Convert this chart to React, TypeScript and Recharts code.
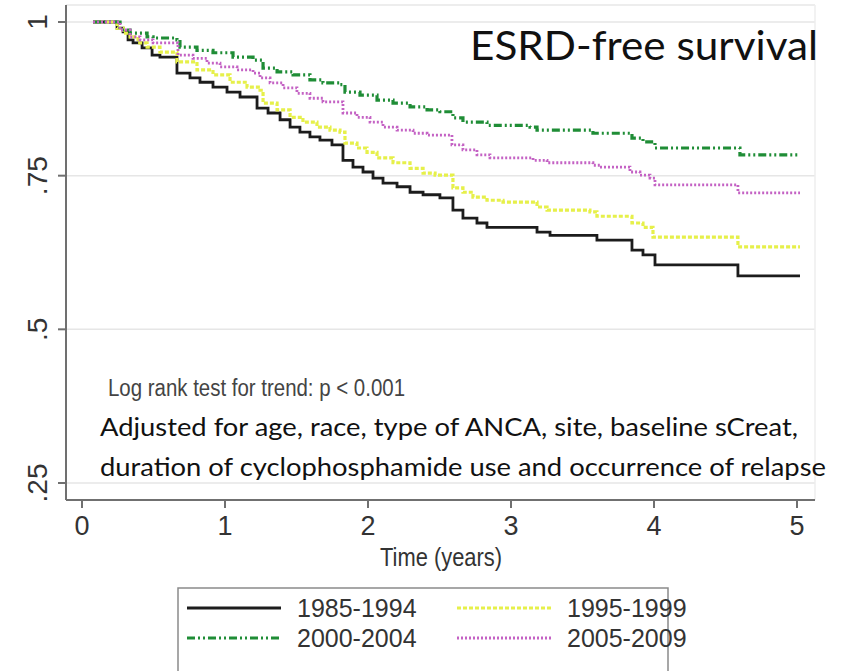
import React from "react";
import {
  CartesianGrid,
  Line,
  LineChart,
  ReferenceLine,
  XAxis,
  YAxis,
} from "recharts";

// Adjusted ESRD-free survival by era of diagnosis: [years, survival]
const era1985: [number, number][] = [
  [0.077, 1.0], [0.245, 0.99], [0.287, 0.984], [0.322, 0.971], [0.357, 0.966],
  [0.42, 0.958], [0.49, 0.946], [0.545, 0.943], [0.664, 0.917], [0.755, 0.909],
  [0.825, 0.902], [0.916, 0.894], [1.014, 0.886], [1.105, 0.878], [1.224, 0.86],
  [1.301, 0.852], [1.385, 0.841], [1.455, 0.829], [1.524, 0.821], [1.594, 0.813],
  [1.664, 0.808], [1.748, 0.8], [1.825, 0.775], [1.895, 0.764], [1.965, 0.756],
  [2.035, 0.746], [2.105, 0.738], [2.203, 0.732], [2.294, 0.723], [2.385, 0.719],
  [2.503, 0.714], [2.594, 0.694], [2.664, 0.681], [2.762, 0.673], [2.832, 0.666],
  [3.182, 0.658], [3.273, 0.653], [3.601, 0.645], [3.846, 0.629], [3.923, 0.621],
  [4.007, 0.605], [4.587, 0.587], [5.021, 0.587],
];

const era1995: [number, number][] = [
  [0.077, 1.0], [0.245, 0.99], [0.287, 0.982], [0.336, 0.976], [0.392, 0.966],
  [0.455, 0.959], [0.545, 0.951], [0.664, 0.935], [0.804, 0.922], [0.916, 0.914],
  [1.035, 0.902], [1.154, 0.894], [1.245, 0.889], [1.266, 0.868], [1.364, 0.857],
  [1.455, 0.845], [1.545, 0.837], [1.643, 0.829], [1.734, 0.824], [1.804, 0.821],
  [1.839, 0.803], [1.923, 0.795], [1.993, 0.788], [2.063, 0.779], [2.175, 0.771],
  [2.294, 0.762], [2.385, 0.754], [2.469, 0.751], [2.594, 0.73], [2.664, 0.723],
  [2.734, 0.715], [2.832, 0.71], [2.944, 0.707], [3.182, 0.699], [3.252, 0.694],
  [3.552, 0.691], [3.601, 0.684], [3.846, 0.673], [3.923, 0.666], [3.993, 0.65],
  [4.587, 0.634], [5.021, 0.634],
];

const era2000: [number, number][] = [
  [0.077, 1.0], [0.266, 0.987], [0.336, 0.982], [0.455, 0.976], [0.497, 0.974],
  [0.664, 0.971], [0.685, 0.959], [0.804, 0.954], [0.916, 0.95], [1.056, 0.943],
  [1.196, 0.938], [1.266, 0.925], [1.364, 0.919], [1.476, 0.914], [1.594, 0.906],
  [1.685, 0.901], [1.804, 0.898], [1.839, 0.886], [1.944, 0.881], [2.063, 0.873],
  [2.175, 0.868], [2.294, 0.862], [2.413, 0.857], [2.503, 0.854], [2.594, 0.844],
  [2.664, 0.837], [2.832, 0.832], [3.133, 0.829], [3.182, 0.824], [3.573, 0.819],
  [3.846, 0.811], [3.923, 0.805], [4.007, 0.795], [4.601, 0.784], [5.021, 0.784],
];

const era2005: [number, number][] = [
  [0.077, 1.0], [0.266, 0.987], [0.336, 0.976], [0.406, 0.971], [0.497, 0.966],
  [0.671, 0.946], [0.776, 0.941], [0.874, 0.933], [0.965, 0.927], [1.084, 0.922],
  [1.196, 0.917], [1.245, 0.909], [1.315, 0.901], [1.406, 0.893], [1.503, 0.884],
  [1.594, 0.876], [1.685, 0.87], [1.825, 0.852], [1.923, 0.845], [2.014, 0.837],
  [2.105, 0.829], [2.203, 0.824], [2.315, 0.819], [2.413, 0.816], [2.587, 0.8],
  [2.664, 0.792], [2.762, 0.784], [2.853, 0.779], [3.154, 0.775], [3.252, 0.771],
  [3.573, 0.767], [3.622, 0.764], [3.832, 0.756], [3.902, 0.751], [3.972, 0.746],
  [4.007, 0.735], [4.587, 0.722], [5.021, 0.722],
];

const xTicks = [0, 1, 2, 3, 4, 5];
const yTicks = [0.25, 0.5, 0.75, 1];

const series = [
  { name: "1985-1994", points: era1985, color: "#1c1c1c", dash: undefined, width: 2.8 },
  { name: "1995-1999", points: era1995, color: "#e6f04a", dash: "4 2", width: 3.2 },
  { name: "2000-2004", points: era2000, color: "#1f8d36", dash: "8 3 2 3 2 3", width: 3.2 },
  { name: "2005-2009", points: era2005, color: "#c462c4", dash: "2 2", width: 2.8 },
];

const W = 843;
const H = 671;
const X_DOMAIN: [number, number] = [-0.112, 5.126];
const Y_DOMAIN: [number, number] = [0.2223, 1.0277];

const fmtY = (v: number) => (v === 1 ? "1" : String(v).replace(/^0/, ""));

function YTick({ x, y, payload }: any) {
  return (
    <text
      x={x}
      y={y}
      transform={`rotate(-90, ${x}, ${y})`}
      textAnchor="middle"
      fontSize={28}
      fontFamily="Liberation Sans, Arial, sans-serif"
      fill="#333"
    >
      {fmtY(payload.value)}
    </text>
  );
}

function Overlay() {
  const sans = "Liberation Sans, Arial, sans-serif";
  const calibriish = "Lato, Noto Sans, sans-serif";
  return (
    <svg
      width={W}
      height={H}
      style={{ position: "absolute", left: 0, top: 0, pointerEvents: "none" }}
    >
      <text x={470} y={60} fontSize={40} fontFamily={calibriish} fill="#111" textLength={348} lengthAdjust="spacingAndGlyphs">
        ESRD-free survival
      </text>
      <text x={108} y={396} fontSize={23} fontFamily={sans} fill="#444" textLength={297} lengthAdjust="spacingAndGlyphs">
        Log rank test for trend: p &lt; 0.001
      </text>
      <text x={100} y={436} fontSize={25} fontFamily={calibriish} fill="#111" textLength={698} lengthAdjust="spacingAndGlyphs">
        Adjusted for age, race, type of ANCA, site, baseline sCreat,
      </text>
      <text x={100} y={476} fontSize={25} fontFamily={calibriish} fill="#111" textLength={726} lengthAdjust="spacingAndGlyphs">
        duration of cyclophosphamide use and occurrence of relapse
      </text>
      <text x={441} y={566} fontSize={26} fontFamily={sans} fill="#333" textAnchor="middle" textLength={122} lengthAdjust="spacingAndGlyphs">
        Time (years)
      </text>

      {/* legend box */}
      <rect x={178} y={588} width={490} height={88} fill="#fff" stroke="#8a8a8a" strokeWidth={1.5} />
      {series.map((s, i) => {
        const col = i % 2;
        const row = Math.floor(i / 2);
        const lx = col === 0 ? 187 : 457;
        const ly = row === 0 ? 608 : 638;
        return (
          <g key={s.name}>
            <line x1={lx} x2={lx + 94} y1={ly} y2={ly} stroke={s.color} strokeWidth={s.width} strokeDasharray={s.dash} />
            <text x={lx + 110} y={ly + 9} fontSize={25} fontFamily={sans} fill="#333">
              {s.name}
            </text>
          </g>
        );
      })}
    </svg>
  );
}

export default function App() {
  return (
    <div style={{ position: "absolute", left: 0, top: 0, width: W, height: H, background: "#fff" }}>
      <LineChart width={W} height={H} margin={{ top: 5, right: 28, left: 0, bottom: 0 }}>
        <CartesianGrid vertical={false} stroke="#e6e6e6" strokeWidth={1.5} />
        <ReferenceLine y={Y_DOMAIN[1]} stroke="#eeeeee" strokeWidth={1.5} />
        <ReferenceLine x={X_DOMAIN[1]} stroke="#eeeeee" strokeWidth={1.5} />
        <XAxis
          type="number"
          dataKey="t"
          domain={X_DOMAIN}
          ticks={xTicks}
          allowDataOverflow
          height={171}
          tickSize={8}
          tickMargin={8}
          stroke="#707070"
          strokeWidth={2}
          tick={{ fontSize: 27, fill: "#333", fontFamily: "Liberation Sans, Arial, sans-serif" }}
        />
        <YAxis
          type="number"
          domain={Y_DOMAIN}
          ticks={yTicks}
          allowDataOverflow
          width={66}
          tickSize={8}
          tickMargin={11}
          stroke="#707070"
          strokeWidth={2}
          tick={<YTick />}
        />
        {series.map((s) => (
          <Line
            key={s.name}
            name={s.name}
            data={s.points.map(([t, v]) => ({ t, v }))}
            dataKey="v"
            type="stepAfter"
            stroke={s.color}
            strokeWidth={s.width}
            strokeDasharray={s.dash}
            dot={false}
            activeDot={false}
            isAnimationActive={false}
          />
        ))}
      </LineChart>
      <Overlay />
    </div>
  );
}
